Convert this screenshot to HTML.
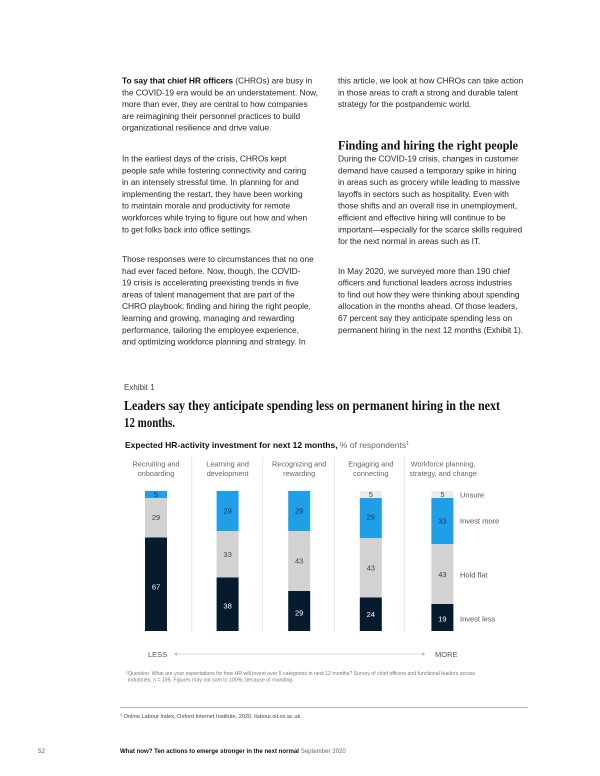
<!DOCTYPE html>
<html>
<head>
<meta charset="utf-8">
<style>
  html, body { margin:0; padding:0; background:#fff; }
  body { width:600px; height:776px; overflow:hidden; }
  svg { display:block; }
  .b { font-family:"Liberation Sans", Arial, sans-serif; font-size:8.4px; fill:#2a2a2a; letter-spacing:-0.05px; }
  .serif { font-family:"Liberation Serif", "Times New Roman", serif; font-weight:bold; fill:#111; }
  .s { font-family:"Liberation Sans", Arial, sans-serif; }
</style>
</head>
<body>
<svg width="600" height="776" viewBox="0 0 600 776" xmlns="http://www.w3.org/2000/svg">
  <rect width="600" height="776" fill="#fff"/>

  <!-- Left column -->
  <g class="b">
    <text x="122" y="83.5"><tspan font-weight="bold" fill="#111">To say that chief HR officers</tspan> (CHROs) are busy in</text>
    <text x="122" y="95.3">the COVID-19 era would be an understatement. Now,</text>
    <text x="122" y="107.1">more than ever, they are central to how companies</text>
    <text x="122" y="118.9">are reimagining their personnel practices to build</text>
    <text x="122" y="130.7">organizational resilience and drive value.</text>

    <text x="122" y="161.5">In the earliest days of the crisis, CHROs kept</text>
    <text x="122" y="173.3">people safe while fostering connectivity and caring</text>
    <text x="122" y="185.1">in an intensely stressful time. In planning for and</text>
    <text x="122" y="196.9">implementing the restart, they have been working</text>
    <text x="122" y="208.7">to maintain morale and productivity for remote</text>
    <text x="122" y="220.5">workforces while trying to figure out how and when</text>
    <text x="122" y="232.3">to get folks back into office settings.</text>

    <text x="122" y="262">Those responses were to circumstances that no one</text>
    <text x="122" y="273.8">had ever faced before. Now, though, the COVID-</text>
    <text x="122" y="285.6">19 crisis is accelerating preexisting trends in five</text>
    <text x="122" y="297.4">areas of talent management that are part of the</text>
    <text x="122" y="309.2">CHRO playbook: finding and hiring the right people,</text>
    <text x="122" y="321">learning and growing, managing and rewarding</text>
    <text x="122" y="332.8">performance, tailoring the employee experience,</text>
    <text x="122" y="344.6">and optimizing workforce planning and strategy. In</text>
  </g>

  <!-- Right column -->
  <g class="b">
    <text x="338" y="83.5">this article, we look at how CHROs can take action</text>
    <text x="338" y="95.3">in those areas to craft a strong and durable talent</text>
    <text x="338" y="107.1">strategy for the postpandemic world.</text>

    <text x="338" y="161.5">During the COVID-19 crisis, changes in customer</text>
    <text x="338" y="173.3">demand have caused a temporary spike in hiring</text>
    <text x="338" y="185.1">in areas such as grocery while leading to massive</text>
    <text x="338" y="196.9">layoffs in sectors such as hospitality. Even with</text>
    <text x="338" y="208.7">those shifts and an overall rise in unemployment,</text>
    <text x="338" y="220.5">efficient and effective hiring will continue to be</text>
    <text x="338" y="232.3">important—especially for the scarce skills required</text>
    <text x="338" y="244.1">for the next normal in areas such as IT.</text>

    <text x="338" y="273.8">In May 2020, we surveyed more than 190 chief</text>
    <text x="338" y="285.6">officers and functional leaders across industries</text>
    <text x="338" y="297.4">to find out how they were thinking about spending</text>
    <text x="338" y="309.2">allocation in the months ahead. Of those leaders,</text>
    <text x="338" y="321">67 percent say they anticipate spending less on</text>
    <text x="338" y="332.8">permanent hiring in the next 12 months (Exhibit 1).</text>
  </g>
  <text class="serif" x="338" y="149.5" font-size="13" textLength="180" lengthAdjust="spacingAndGlyphs">Finding and hiring the right people</text>

  <!-- Exhibit -->
  <text class="s" x="124" y="390" font-size="8" fill="#444">Exhibit 1</text>
  <text class="serif" x="124" y="410" font-size="14" textLength="376" lengthAdjust="spacingAndGlyphs">Leaders say they anticipate spending less on permanent hiring in the next</text>
  <text class="serif" x="124" y="427" font-size="14" textLength="51" lengthAdjust="spacingAndGlyphs">12 months.</text>

  <text class="s" x="125" y="448" font-size="8.5"><tspan font-weight="bold" fill="#111">Expected HR-activity investment for next 12 months,</tspan><tspan fill="#666"> % of respondents</tspan><tspan fill="#666" font-size="5" dy="-3">1</tspan></text>

  <!-- Category labels -->
  <g class="s" font-size="7.3" fill="#666" text-anchor="middle">
    <text x="156" y="466.6">Recruiting and</text>
    <text x="156" y="476">onboarding</text>
    <text x="227.6" y="466.6">Learning and</text>
    <text x="227.6" y="476">development</text>
    <text x="299.2" y="466.6">Recognizing and</text>
    <text x="299.2" y="476">rewarding</text>
    <text x="370.8" y="466.6">Engaging and</text>
    <text x="370.8" y="476">connecting</text>
    <text x="443" y="466.6">Workforce planning,</text>
    <text x="443" y="476">strategy, and change</text>
  </g>

  <!-- Separators -->
  <g stroke="#e6e6e6" stroke-width="1">
    <line x1="191.7" y1="457" x2="191.7" y2="632"/>
    <line x1="262.7" y1="457" x2="262.7" y2="632"/>
    <line x1="334.3" y1="457" x2="334.3" y2="632"/>
    <line x1="404.3" y1="457" x2="404.3" y2="632"/>
  </g>

  <!-- Bars -->
  <!-- Bar 1 -->
  <rect x="145" y="491" width="22" height="7" fill="#1f9fe8"/>
  <rect x="145" y="498" width="22" height="39.5" fill="#d2d2d2"/>
  <rect x="145" y="537.5" width="22" height="93.5" fill="#061b2e"/>
  <!-- Bar 2 -->
  <rect x="216.6" y="491" width="22" height="40" fill="#1f9fe8"/>
  <rect x="216.6" y="531" width="22" height="46.5" fill="#d2d2d2"/>
  <rect x="216.6" y="577.5" width="22" height="53.5" fill="#061b2e"/>
  <!-- Bar 3 -->
  <rect x="288.2" y="491" width="22" height="40" fill="#1f9fe8"/>
  <rect x="288.2" y="531" width="22" height="60" fill="#d2d2d2"/>
  <rect x="288.2" y="591" width="22" height="40" fill="#061b2e"/>
  <!-- Bar 4 -->
  <rect x="359.8" y="491" width="22" height="7" fill="#ebebeb"/>
  <rect x="359.8" y="498" width="22" height="40" fill="#1f9fe8"/>
  <rect x="359.8" y="538" width="22" height="59.5" fill="#d2d2d2"/>
  <rect x="359.8" y="597.5" width="22" height="33.5" fill="#061b2e"/>
  <!-- Bar 5 -->
  <rect x="431.4" y="491" width="22" height="7" fill="#ebebeb"/>
  <rect x="431.4" y="498" width="22" height="46" fill="#1f9fe8"/>
  <rect x="431.4" y="544" width="22" height="60" fill="#d2d2d2"/>
  <rect x="431.4" y="604" width="22" height="27" fill="#061b2e"/>

  <!-- Bar values -->
  <g class="s" font-size="7.5" text-anchor="middle">
    <text x="156" y="497.2" fill="#1a3550">5</text>
    <text x="156" y="520.2" fill="#444">29</text>
    <text x="156" y="589.7" fill="#fff">67</text>

    <text x="227.6" y="513.7" fill="#1a3550">29</text>
    <text x="227.6" y="557.2" fill="#444">33</text>
    <text x="227.6" y="608.7" fill="#fff">38</text>

    <text x="299.2" y="513.7" fill="#1a3550">29</text>
    <text x="299.2" y="563.7" fill="#444">43</text>
    <text x="299.2" y="615.7" fill="#fff">29</text>

    <text x="370.8" y="496.9" fill="#444">5</text>
    <text x="370.8" y="519.7" fill="#1a3550">29</text>
    <text x="370.8" y="570.7" fill="#444">43</text>
    <text x="370.8" y="617.2" fill="#fff">24</text>

    <text x="442.4" y="496.9" fill="#444">5</text>
    <text x="442.4" y="523.7" fill="#1a3550">33</text>
    <text x="442.4" y="577.2" fill="#444">43</text>
    <text x="442.4" y="621.7" fill="#fff">19</text>
  </g>

  <!-- Legend -->
  <g class="s" font-size="7.5" fill="#555">
    <text x="460" y="497.7">Unsure</text>
    <text x="460" y="523.7">Invest more</text>
    <text x="460" y="577.7">Hold flat</text>
    <text x="460" y="621.7">Invest less</text>
  </g>

  <!-- LESS / MORE arrow -->
  <text class="s" x="148" y="657" font-size="7.5" fill="#555">LESS</text>
  <text class="s" x="435" y="657" font-size="7.5" fill="#555">MORE</text>
  <line x1="176" y1="654" x2="423" y2="654" stroke="#cfcfcf" stroke-width="0.8"/>
  <path d="M173.5 654 L177 652.2 L177 655.8 Z" fill="#bbb"/>
  <path d="M425.5 654 L422 652.2 L422 655.8 Z" fill="#bbb"/>

  <!-- Question footnote -->
  <g class="s" font-size="5.2" fill="#777">
    <text x="126" y="675"><tspan font-size="3.5" dy="-1.5">1</tspan><tspan dy="1.5">Question: What are your expectations for how HR will invest over 5 categories in next 12 months? Survey of chief officers and functional leaders across</tspan></text>
    <text x="128" y="681.5">industries; n = 195. Figures may not sum to 100%, because of rounding.</text>
  </g>

  <!-- Rule and footnote -->
  <line x1="120" y1="707.5" x2="528" y2="707.5" stroke="#9a9a9a" stroke-width="0.8"/>
  <text class="s" x="120" y="718" font-size="5.6" fill="#444"><tspan font-size="3.8" dy="-2">1</tspan><tspan dy="2"> Online Labour Index, Oxford Internet Institute, 2020, ilabour.oii.ox.ac.uk.</tspan></text>

  <!-- Footer -->
  <text class="s" x="38" y="753" font-size="6.2" fill="#555">52</text>
  <text class="s" x="120" y="753" font-size="6.1"><tspan font-weight="bold" fill="#111">What now? Ten actions to emerge stronger in the next normal</tspan><tspan fill="#666"> September 2020</tspan></text>
</svg>
</body>
</html>
